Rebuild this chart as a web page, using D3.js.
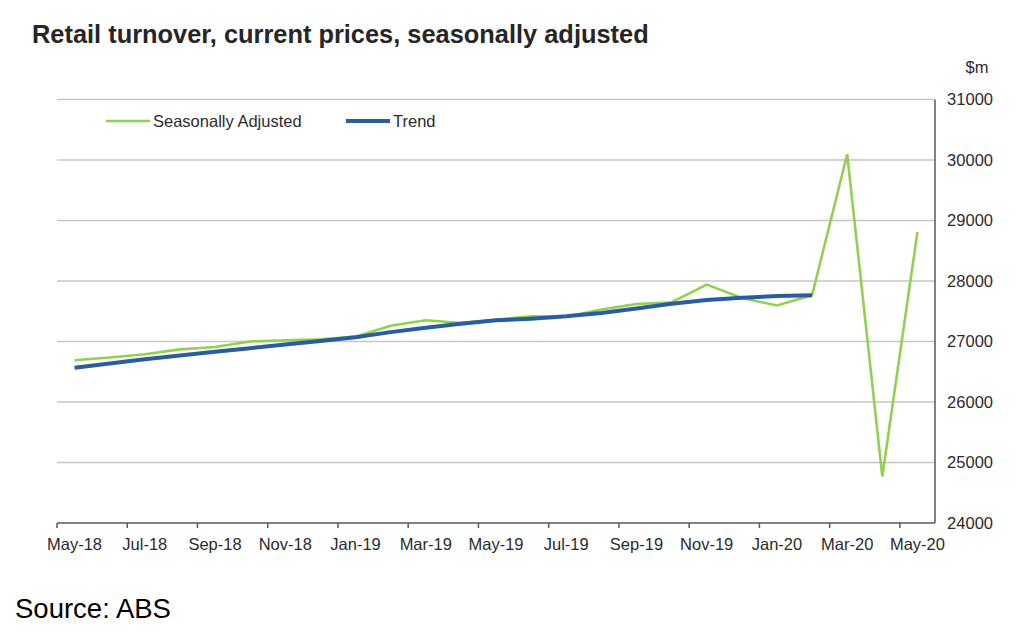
<!DOCTYPE html>
<html>
<head>
<meta charset="utf-8">
<script src="https://cdn.jsdelivr.net/npm/d3@7"></script>
<style>
  html, body { margin: 0; padding: 0; background: #fff; }
  svg { display: block; font-family: "Liberation Sans", Arial, sans-serif; }
</style>
</head>
<body>
<svg id="chart" width="1024" height="635"></svg>
<script>
const months = ["May-18","Jun-18","Jul-18","Aug-18","Sep-18","Oct-18","Nov-18","Dec-18",
  "Jan-19","Feb-19","Mar-19","Apr-19","May-19","Jun-19","Jul-19","Aug-19","Sep-19","Oct-19",
  "Nov-19","Dec-19","Jan-20","Feb-20","Mar-20","Apr-20","May-20"];
const seasonallyAdjusted = [26690, 26735, 26790, 26870, 26910, 27000, 27020, 27035,
  27080, 27260, 27350, 27305, 27360, 27415, 27410, 27530, 27620, 27650,
  27940, 27720, 27595, 27765, 30095, 24770, 28810];
const trend = [26566, 26635, 26705, 26770, 26830, 26890, 26950, 27010,
  27070, 27155, 27228, 27294, 27350, 27378, 27417, 27472, 27545, 27624,
  27685, 27724, 27751, 27765];
const yTicks = [24000, 25000, 26000, 27000, 28000, 29000, 30000, 31000];
const seriesNames = ["Seasonally Adjusted", "Trend"];

const svg = d3.select("#chart");
const x = d3.scaleBand().domain(months).range([57, 935]).padding(0);
const y = d3.scaleLinear().domain([24000, 31000]).range([523, 99.5]);
const cx = m => x(m) + x.bandwidth() / 2;

// title
svg.append("text").attr("x", 32).attr("y", 43)
  .attr("font-size", 25.4).attr("font-weight", "bold").attr("fill", "#262626")
  .text("Retail turnover, current prices, seasonally adjusted");

// gridlines
svg.append("g").selectAll("line").data(yTicks.filter(t => t > 24000)).join("line")
  .attr("x1", 57).attr("x2", 935)
  .attr("y1", d => y(d)).attr("y2", d => y(d))
  .attr("stroke", "#c6c6c6").attr("stroke-width", 1.5);

// right axis labels
svg.append("g").selectAll("text").data(yTicks).join("text")
  .attr("x", 993).attr("y", d => y(d)).attr("dy", "0.35em")
  .attr("text-anchor", "end").attr("font-size", 16.5).attr("fill", "#2b2b2b")
  .text(d => d);
svg.append("text").attr("x", 977).attr("y", 73).attr("text-anchor", "middle")
  .attr("font-size", 16.5).attr("fill", "#2b2b2b").text("$m");

// axes lines
svg.append("line").attr("x1", 935).attr("x2", 935).attr("y1", y(31000)).attr("y2", y(24000))
  .attr("stroke", "#595959").attr("stroke-width", 1.5);
svg.append("line").attr("x1", 57).attr("x2", 935).attr("y1", y(24000)).attr("y2", y(24000))
  .attr("stroke", "#595959").attr("stroke-width", 1.5);

// x ticks and labels
const labelled = months.filter((m, i) => i % 2 === 0);
svg.append("g").selectAll("line").data(labelled).join("line")
  .attr("x1", d => x(d)).attr("x2", d => x(d))
  .attr("y1", y(24000)).attr("y2", y(24000) + 5)
  .attr("stroke", "#595959").attr("stroke-width", 1.5);
svg.append("g").selectAll("text").data(labelled).join("text")
  .attr("x", d => cx(d)).attr("y", 550).attr("text-anchor", "middle")
  .attr("font-size", 16.5).attr("fill", "#2b2b2b").text(d => d);

// lines
const line = d3.line().x(d => cx(d.m)).y(d => y(d.v));
svg.append("path")
  .datum(seasonallyAdjusted.map((v, i) => ({ m: months[i], v })))
  .attr("d", line).attr("fill", "none").attr("stroke", "#92d050")
  .attr("stroke-width", 2.6).attr("stroke-linejoin", "miter");
svg.append("path")
  .datum(trend.map((v, i) => ({ m: months[i], v })))
  .attr("d", line).attr("fill", "none").attr("stroke", "#2a5d9e")
  .attr("stroke-width", 4).attr("stroke-linejoin", "round");

// legend
const legend = svg.append("g");
const legendItems = [
  { name: seriesNames[0], color: "#92d050", w: 2.6, x0: 106, x1: 150 },
  { name: seriesNames[1], color: "#2a5d9e", w: 4, x0: 346, x1: 390 }
];
legendItems.forEach(d => {
  legend.append("line").attr("x1", d.x0).attr("x2", d.x1).attr("y1", 121).attr("y2", 121)
    .attr("stroke", d.color).attr("stroke-width", d.w);
  legend.append("text").attr("x", d.x1 + 3).attr("y", 127)
    .attr("font-size", 16.5).attr("fill", "#2b2b2b").text(d.name);
});

// source
svg.append("text").attr("x", 15).attr("y", 618).attr("font-size", 27.5).attr("fill", "#000")
  .text("Source: ABS");
</script>
</body>
</html>
